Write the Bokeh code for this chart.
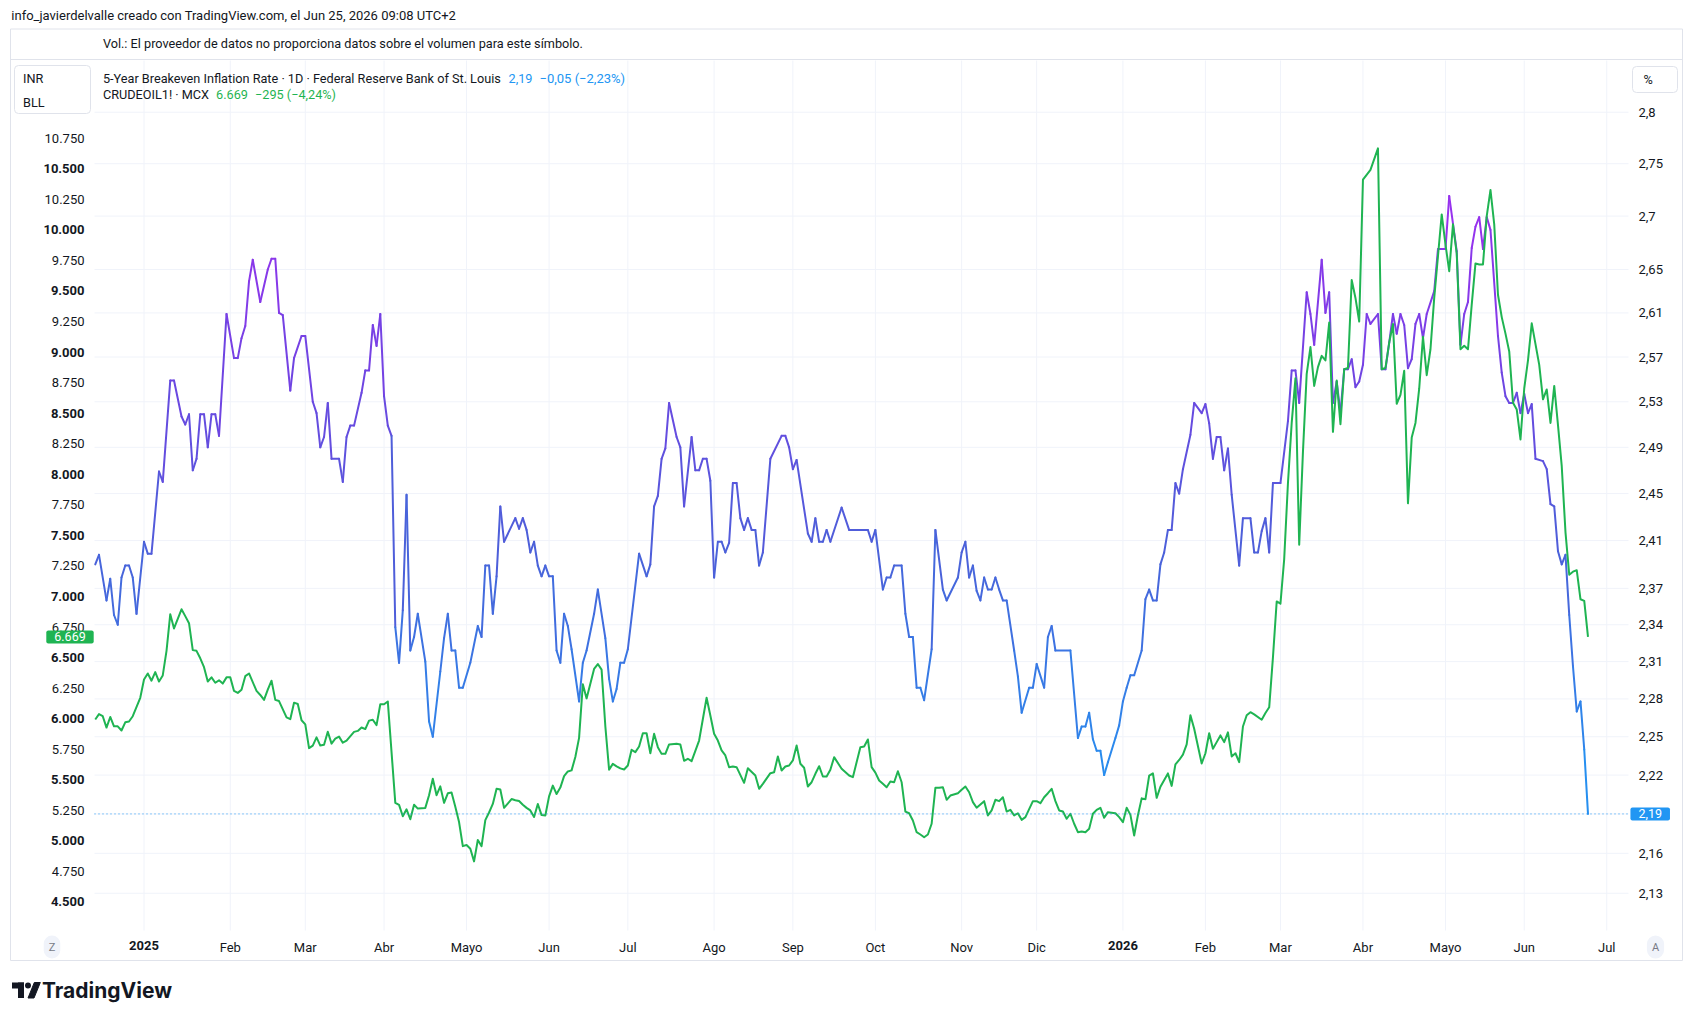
import numpy as np
from bokeh.plotting import figure
from bokeh.models import (Range1d, LinearAxis, LinearScale, FixedTicker, Label,
                          BoxAnnotation, PolyAnnotation)
from bokeh.embed import file_html
from bokeh.resources import INLINE

# ---------------- data ----------------
# 5-Year Breakeven Inflation Rate (right, log axis, %)
bei_dates = [
 "2024-12-13","2024-12-16","2024-12-18","2024-12-19","2024-12-20","2024-12-23","2024-12-24","2024-12-25","2024-12-26","2024-12-27","2024-12-30",
 "2025-01-01","2025-01-02","2025-01-03","2025-01-07","2025-01-08","2025-01-10","2025-01-13","2025-01-15","2025-01-16","2025-01-17","2025-01-20","2025-01-21","2025-01-22","2025-01-23","2025-01-24","2025-01-27","2025-01-28","2025-01-29","2025-01-31",
 "2025-02-04","2025-02-05","2025-02-06","2025-02-07","2025-02-10","2025-02-11","2025-02-13","2025-02-17","2025-02-18","2025-02-19","2025-02-20","2025-02-21","2025-02-25","2025-02-26","2025-02-28",
 "2025-03-03","2025-03-05","2025-03-06","2025-03-07","2025-03-10","2025-03-11","2025-03-12","2025-03-14","2025-03-17","2025-03-18","2025-03-19","2025-03-20","2025-03-24","2025-03-25","2025-03-26","2025-03-27","2025-03-28","2025-03-31",
 "2025-04-01","2025-04-02","2025-04-03","2025-04-04","2025-04-07","2025-04-08","2025-04-09","2025-04-10","2025-04-11","2025-04-14","2025-04-16","2025-04-17","2025-04-18","2025-04-22","2025-04-23","2025-04-24","2025-04-25","2025-04-28","2025-04-29","2025-04-30",
 "2025-05-02","2025-05-06","2025-05-07","2025-05-08","2025-05-09","2025-05-12","2025-05-13","2025-05-14","2025-05-15","2025-05-20","2025-05-21","2025-05-22","2025-05-23","2025-05-26","2025-05-27","2025-05-28","2025-05-29","2025-05-30",
 "2025-06-02","2025-06-03","2025-06-04","2025-06-05","2025-06-06","2025-06-09","2025-06-10","2025-06-12","2025-06-13","2025-06-16","2025-06-18","2025-06-19","2025-06-23","2025-06-24","2025-06-25","2025-06-26","2025-06-27","2025-06-30",
 "2025-07-01","2025-07-04","2025-07-08","2025-07-09","2025-07-10","2025-07-11","2025-07-14","2025-07-15","2025-07-16","2025-07-18","2025-07-21","2025-07-22","2025-07-24","2025-07-25","2025-07-28","2025-07-29","2025-07-30","2025-07-31",
 "2025-08-01","2025-08-04","2025-08-05","2025-08-06","2025-08-07","2025-08-08","2025-08-11","2025-08-12","2025-08-13","2025-08-14","2025-08-15","2025-08-18","2025-08-19","2025-08-20","2025-08-22","2025-08-27","2025-08-28","2025-08-29",
 "2025-09-01","2025-09-02","2025-09-05","2025-09-08","2025-09-09","2025-09-10","2025-09-11","2025-09-12","2025-09-15","2025-09-18","2025-09-22","2025-09-29","2025-09-30",
 "2025-10-01","2025-10-03","2025-10-06","2025-10-07","2025-10-08","2025-10-10","2025-10-13","2025-10-14","2025-10-15","2025-10-16","2025-10-17","2025-10-20","2025-10-22","2025-10-23","2025-10-27","2025-10-28","2025-10-31",
 "2025-11-03","2025-11-04","2025-11-05","2025-11-06","2025-11-07","2025-11-10","2025-11-11","2025-11-12","2025-11-13","2025-11-14","2025-11-17","2025-11-18","2025-11-19","2025-11-21","2025-11-24","2025-11-25","2025-11-27","2025-11-28",
 "2025-12-01","2025-12-03","2025-12-04","2025-12-05","2025-12-08","2025-12-12","2025-12-16","2025-12-17","2025-12-18","2025-12-19","2025-12-22","2025-12-23","2025-12-24","2025-12-25","2025-12-26","2025-12-30","2025-12-31",
 "2026-01-01","2026-01-02","2026-01-05","2026-01-06","2026-01-08","2026-01-09","2026-01-12","2026-01-13","2026-01-14","2026-01-15","2026-01-16","2026-01-19","2026-01-20","2026-01-21","2026-01-22","2026-01-23","2026-01-27","2026-01-28","2026-01-30",
 "2026-02-02","2026-02-03","2026-02-04","2026-02-05","2026-02-06","2026-02-09","2026-02-10","2026-02-11","2026-02-13","2026-02-16","2026-02-18","2026-02-19","2026-02-20","2026-02-23","2026-02-24","2026-02-25","2026-02-26",
 "2026-03-02","2026-03-04","2026-03-05","2026-03-06","2026-03-09","2026-03-11","2026-03-12","2026-03-13","2026-03-17","2026-03-18","2026-03-19","2026-03-20","2026-03-23","2026-03-24","2026-03-25","2026-03-26","2026-03-27","2026-03-30","2026-03-31",
 "2026-04-01","2026-04-02","2026-04-03","2026-04-07","2026-04-08","2026-04-09","2026-04-10","2026-04-13","2026-04-14","2026-04-15","2026-04-16","2026-04-17","2026-04-20","2026-04-21","2026-04-22","2026-04-23","2026-04-24","2026-04-28","2026-04-29",
 "2026-05-01","2026-05-04","2026-05-06","2026-05-07","2026-05-08","2026-05-11","2026-05-12","2026-05-13","2026-05-14","2026-05-15","2026-05-18","2026-05-19","2026-05-21","2026-05-22","2026-05-25","2026-05-26","2026-05-27","2026-05-28","2026-05-29",
 "2026-06-01","2026-06-02","2026-06-03","2026-06-04","2026-06-08","2026-06-09","2026-06-10","2026-06-11","2026-06-12","2026-06-15","2026-06-16","2026-06-17","2026-06-18","2026-06-19","2026-06-22","2026-06-23","2026-06-24"]
bei_values = [
 2.390,2.398,2.360,2.378,2.348,2.340,2.379,2.389,2.389,2.379,2.349,
 2.409,2.399,2.399,2.469,2.460,2.549,2.549,2.517,2.510,2.519,2.470,2.480,2.519,2.519,2.490,2.519,2.519,2.500,2.609,
 2.569,2.569,2.587,2.598,2.639,2.659,2.620,2.650,2.660,2.660,2.610,2.608,2.540,2.569,2.589,
 2.589,2.530,2.520,2.490,2.499,2.529,2.480,2.480,2.460,2.499,2.509,2.509,2.538,2.558,2.558,2.599,2.580,2.609,
 2.535,2.509,2.500,2.338,2.309,2.352,2.449,2.319,2.330,2.349,2.310,2.262,2.250,2.302,2.329,2.349,2.319,2.319,2.289,2.289,
 2.309,2.339,2.330,2.389,2.389,2.349,2.380,2.439,2.409,2.429,2.420,2.429,2.419,2.400,2.409,2.389,2.380,2.389,
 2.380,2.380,2.319,2.309,2.349,2.339,2.320,2.278,2.309,2.319,2.349,2.369,2.329,2.296,2.278,2.288,2.309,2.309,
 2.320,2.399,2.380,2.390,2.439,2.448,2.480,2.489,2.529,2.499,2.490,2.439,2.499,2.470,2.470,2.480,2.480,2.461,
 2.379,2.409,2.409,2.400,2.408,2.459,2.459,2.429,2.419,2.429,2.419,2.419,2.389,2.400,2.480,2.500,2.500,2.490,
 2.471,2.479,2.416,2.409,2.429,2.409,2.409,2.419,2.409,2.438,2.419,2.419,2.409,
 2.419,2.369,2.379,2.379,2.389,2.389,2.349,2.330,2.330,2.289,2.289,2.279,2.320,2.419,2.369,2.360,2.379,
 2.400,2.409,2.379,2.389,2.368,2.360,2.379,2.369,2.369,2.379,2.369,2.360,2.360,2.319,2.298,2.269,2.289,2.289,
 2.308,2.289,2.330,2.339,2.319,2.319,2.249,2.258,2.258,2.269,2.248,2.239,2.239,2.220,2.230,2.249,2.259,
 2.278,2.289,2.299,2.299,2.319,2.361,2.369,2.360,2.360,2.390,2.400,2.419,2.419,2.459,2.450,2.471,2.501,2.529,2.520,
 2.528,2.511,2.480,2.499,2.499,2.470,2.489,2.449,2.389,2.429,2.429,2.400,2.400,2.418,2.429,2.400,2.459,
 2.459,2.513,2.558,2.558,2.529,2.629,2.609,2.581,2.659,2.610,2.629,2.529,2.548,2.520,2.559,2.559,2.568,2.543,2.548,
 2.563,2.609,2.600,2.609,2.559,2.559,2.583,2.609,2.591,2.609,2.599,2.560,2.568,2.600,2.609,2.587,2.609,2.630,2.669,
 2.669,2.719,2.667,2.581,2.609,2.620,2.670,2.690,2.699,2.669,2.699,2.687,2.589,2.556,2.535,2.529,2.529,2.538,2.520,
 2.537,2.520,2.528,2.480,2.478,2.471,2.441,2.439,2.401,2.390,2.398,2.348,2.306,2.270,2.278,2.240,2.190]

# CRUDEOIL1! MCX (left, linear axis, INR)
crude_dates = [
 "2024-12-13","2024-12-16","2024-12-17","2024-12-18","2024-12-19","2024-12-20","2024-12-23","2024-12-24","2024-12-25","2024-12-26","2024-12-27","2024-12-31",
 "2025-01-01","2025-01-02","2025-01-03","2025-01-06","2025-01-07","2025-01-08","2025-01-09","2025-01-10","2025-01-13","2025-01-15","2025-01-16","2025-01-17","2025-01-20","2025-01-21","2025-01-22","2025-01-23","2025-01-24","2025-01-27","2025-01-28","2025-01-29","2025-01-30","2025-01-31",
 "2025-02-03","2025-02-04","2025-02-05","2025-02-06","2025-02-07","2025-02-10","2025-02-12","2025-02-13","2025-02-14","2025-02-17","2025-02-18","2025-02-19","2025-02-20","2025-02-24","2025-02-25","2025-02-26","2025-02-27","2025-02-28",
 "2025-03-03","2025-03-04","2025-03-05","2025-03-06","2025-03-07","2025-03-10","2025-03-11","2025-03-12","2025-03-13","2025-03-14","2025-03-17","2025-03-18","2025-03-20","2025-03-21","2025-03-24","2025-03-25","2025-03-26","2025-03-27","2025-03-28","2025-03-31",
 "2025-04-01","2025-04-02","2025-04-04","2025-04-07","2025-04-08","2025-04-09","2025-04-10","2025-04-11","2025-04-14","2025-04-16","2025-04-17","2025-04-18","2025-04-21","2025-04-22","2025-04-23","2025-04-24","2025-04-25","2025-04-28","2025-04-29","2025-04-30",
 "2025-05-01","2025-05-02","2025-05-05","2025-05-06","2025-05-07","2025-05-08","2025-05-09","2025-05-12","2025-05-13","2025-05-14","2025-05-15","2025-05-19","2025-05-20","2025-05-21","2025-05-22","2025-05-23","2025-05-26","2025-05-27","2025-05-28","2025-05-29","2025-05-30",
 "2025-06-02","2025-06-03","2025-06-04","2025-06-05","2025-06-06","2025-06-09","2025-06-10","2025-06-11","2025-06-12","2025-06-13","2025-06-16","2025-06-18","2025-06-19","2025-06-20","2025-06-23","2025-06-24","2025-06-25","2025-06-26","2025-06-27","2025-06-30",
 "2025-07-01","2025-07-02","2025-07-03","2025-07-04","2025-07-07","2025-07-08","2025-07-09","2025-07-10","2025-07-11","2025-07-14","2025-07-15","2025-07-16","2025-07-18","2025-07-21","2025-07-22","2025-07-23","2025-07-24","2025-07-28","2025-07-30","2025-07-31",
 "2025-08-01","2025-08-04","2025-08-05","2025-08-06","2025-08-07","2025-08-08","2025-08-11","2025-08-13","2025-08-14","2025-08-18","2025-08-19","2025-08-20","2025-08-22","2025-08-25","2025-08-26","2025-08-27","2025-08-28","2025-08-29",
 "2025-09-01","2025-09-02","2025-09-03","2025-09-04","2025-09-05","2025-09-08","2025-09-09","2025-09-10","2025-09-11","2025-09-12","2025-09-15","2025-09-16","2025-09-18","2025-09-22","2025-09-23","2025-09-25","2025-09-26","2025-09-29","2025-09-30",
 "2025-10-01","2025-10-02","2025-10-03","2025-10-06","2025-10-07","2025-10-08","2025-10-09","2025-10-10","2025-10-13","2025-10-14","2025-10-15","2025-10-16","2025-10-17","2025-10-20","2025-10-21","2025-10-22","2025-10-23","2025-10-24","2025-10-27","2025-10-28","2025-10-29","2025-10-31",
 "2025-11-03","2025-11-04","2025-11-05","2025-11-06","2025-11-07","2025-11-10","2025-11-11","2025-11-12","2025-11-13","2025-11-14","2025-11-17","2025-11-18","2025-11-19","2025-11-20","2025-11-21","2025-11-24","2025-11-25","2025-11-26","2025-11-28",
 "2025-12-01","2025-12-02","2025-12-03","2025-12-04","2025-12-05","2025-12-08","2025-12-09","2025-12-10","2025-12-11","2025-12-12","2025-12-15","2025-12-16","2025-12-17","2025-12-18","2025-12-19","2025-12-22","2025-12-23","2025-12-24","2025-12-25","2025-12-26","2025-12-30","2025-12-31",
 "2026-01-01","2026-01-02","2026-01-05","2026-01-06","2026-01-07","2026-01-08","2026-01-09","2026-01-12","2026-01-13","2026-01-14","2026-01-15","2026-01-19","2026-01-20","2026-01-21","2026-01-22","2026-01-23","2026-01-26","2026-01-27","2026-01-28","2026-01-30",
 "2026-02-02","2026-02-03","2026-02-04","2026-02-05","2026-02-06","2026-02-09","2026-02-10","2026-02-11","2026-02-12","2026-02-13","2026-02-16","2026-02-17","2026-02-18","2026-02-19","2026-02-23","2026-02-24","2026-02-25","2026-02-26","2026-02-27",
 "2026-03-02","2026-03-03","2026-03-04","2026-03-05","2026-03-06","2026-03-09","2026-03-10","2026-03-11","2026-03-12","2026-03-13","2026-03-16","2026-03-17","2026-03-18","2026-03-19","2026-03-20","2026-03-23","2026-03-24","2026-03-25","2026-03-26","2026-03-27","2026-03-30","2026-03-31",
 "2026-04-01","2026-04-03","2026-04-07","2026-04-08","2026-04-09","2026-04-10","2026-04-13","2026-04-14","2026-04-15","2026-04-16","2026-04-17","2026-04-20","2026-04-21","2026-04-22","2026-04-23","2026-04-24","2026-04-27","2026-04-28","2026-04-30",
 "2026-05-01","2026-05-04","2026-05-05","2026-05-06","2026-05-07","2026-05-08","2026-05-11","2026-05-12","2026-05-13","2026-05-14","2026-05-15","2026-05-18","2026-05-19","2026-05-20","2026-05-21","2026-05-22","2026-05-25","2026-05-26","2026-05-27","2026-05-28","2026-05-29",
 "2026-06-01","2026-06-02","2026-06-03","2026-06-05","2026-06-08","2026-06-09","2026-06-10","2026-06-11","2026-06-12","2026-06-15","2026-06-16","2026-06-17","2026-06-18","2026-06-19","2026-06-22","2026-06-23","2026-06-24"]
crude_values = [
 5993,6037,6020,5927,6014,5937,5937,5903,5970,5977,6020,6171,
 6321,6370,6311,6381,6304,6354,6555,6855,6738,6895,6839,6781,6561,6555,6494,6421,6304,6338,6294,6314,6287,6338,
 6338,6227,6211,6237,6348,6370,6227,6194,6154,6237,6311,6154,6144,6010,5996,6131,6120,5987,
 5953,5759,5780,5847,5780,5786,5893,5796,5836,5853,5803,5820,5892,5900,5928,5915,5984,5991,5947,6118,
 6118,6141,5311,5295,5201,5258,5177,5295,5264,5270,5374,5508,5374,5446,5311,5389,5396,5280,5154,4957,
 4966,4935,4832,5007,4957,5170,5232,5302,5427,5420,5270,5342,5333,5326,5295,5270,5249,5195,5302,5211,5208,
 5364,5452,5383,5436,5530,5568,5577,5686,5843,6282,6166,6407,6447,6401,5938,5583,5630,5610,5593,5584,
 5617,5745,5726,5772,5881,5881,5717,5876,5767,5712,5712,5789,5794,5789,5655,5672,5652,5821,6171,6026,
 5876,5821,5740,5699,5603,5609,5603,5475,5595,5535,5426,5467,5554,5562,5690,5576,5609,5617,
 5658,5780,5631,5598,5445,5480,5549,5611,5527,5527,5582,5685,5590,5535,5521,5767,5772,5830,5603,
 5558,5494,5467,5439,5486,5480,5570,5480,5240,5226,5167,5071,5052,5030,5052,5140,5434,5434,5439,5336,5371,5390,
 5418,5445,5398,5317,5271,5298,5325,5208,5249,5336,5325,5357,5240,5254,5208,5226,5172,5194,5325,
 5325,5308,5357,5390,5426,5325,5249,5240,5181,5222,5140,5071,5077,5071,5099,5222,5254,5271,5189,5235,5226,5194,
 5153,5271,5213,5044,5210,5348,5340,5534,5552,5352,5443,5552,5450,5626,5662,5706,5790,6028,5918,5633,
 5717,5881,5753,5808,5863,5808,5888,5691,5717,5644,5936,6028,6053,6035,5991,6046,6093,6502,6959,
 6941,7306,7927,8420,8785,7423,8183,8822,9041,8723,8877,8969,8932,9242,8347,8767,8409,8859,8870,9589,9443,9250,
 10411,10491,10667,8859,8870,9078,9230,8577,8650,8847,7762,8300,8420,8702,9125,8811,9023,9443,10126,
 9882,9662,10045,9808,9023,9052,9023,9388,9725,9717,9717,10112,10327,10045,9469,9286,9151,9005,8585,8530,8285,
 8702,8932,9235,8895,8613,8694,8420,8723,8402,8066,7525,7178,7203,7215,6977,6964,6669]

month_starts = ["2025-01","2025-02","2025-03","2025-04","2025-05","2025-06","2025-07","2025-08","2025-09",
                "2025-10","2025-11","2025-12","2026-01","2026-02","2026-03","2026-04","2026-05","2026-06","2026-07"]
month_labels = ["2025","Feb","Mar","Abr","Mayo","Jun","Jul","Ago","Sep","Oct","Nov","Dic",
                "2026","Feb","Mar","Abr","Mayo","Jun","Jul"]
bei_ticks = [2.13,2.16,2.19,2.22,2.25,2.28,2.31,2.34,2.37,2.41,2.45,2.49,2.53,2.57,2.61,2.65,2.7,2.75,2.8]
crude_ticks = list(range(4500, 10751, 250))

# ---------------- style / layout ----------------
DARK = "#131722"
GRID = "#f0f3fa"
BORDER = "#e0e3eb"
GREEN = "#1fb452"
BLUE = "#2196f3"
FONT = "Roboto"
TXT = "12.7px"

W, H = 1686, 1010
FRAME_L, FRAME_R, FRAME_T, FRAME_B = 94, 1628, 60, 930     # page pixels of the chart pane
X_RANGE = (-13.2, 395.8)                                     # visible business-day window of the pane
BEI_RANGE = (2.1024, 2.8512)
CRUDE_RANGE = (4266.6, 11385.8)

BASE = np.datetime64("2025-01-01")
def bidx(ds):
    return np.busday_count(BASE, np.array(ds, dtype="datetime64[D]")).astype(float)

tick_idx = [int(np.busday_count(BASE, np.busday_offset(np.datetime64(m + "-01"), 0, roll="forward")))
            for m in month_starts]

def fmt_thousands(v):
    return f"{int(v):,}".replace(",", ".")

def fmt_dec(v, nd=2):
    return f"{v:.{nd}f}".replace(".", ",")

# the whole canvas is the plot frame; ranges are widened so that the pane keeps its window
ppx = (X_RANGE[1] - X_RANGE[0]) / (FRAME_R - FRAME_L)
full_x = (X_RANGE[0] - FRAME_L * ppx, X_RANGE[1] + (W - FRAME_R) * ppx)
lpp = (np.log(BEI_RANGE[1]) - np.log(BEI_RANGE[0])) / (FRAME_B - FRAME_T)
full_bei = (float(np.exp(np.log(BEI_RANGE[0]) - (H - FRAME_B) * lpp)),
            float(np.exp(np.log(BEI_RANGE[1]) + FRAME_T * lpp)))
cpp = (CRUDE_RANGE[1] - CRUDE_RANGE[0]) / (FRAME_B - FRAME_T)
full_crude = (CRUDE_RANGE[0] - (H - FRAME_B) * cpp, CRUDE_RANGE[1] + FRAME_T * cpp)

p = figure(width=W, height=H, output_backend="svg", toolbar_location=None, title=None,
           x_range=Range1d(*full_x), y_range=Range1d(*full_bei),
           y_axis_type="log", y_axis_location="right", min_border=0)
p.outline_line_color = None
p.background_fill_color = "white"
p.border_fill_color = "white"
p.extra_y_ranges = {"crude": Range1d(*full_crude)}
p.extra_y_scales = {"crude": LinearScale()}
p.xgrid.visible = False
p.ygrid.visible = False

def style_axis(ax, standoff=10, bold=False):
    ax.axis_line_color = None
    ax.major_tick_line_color = None
    ax.minor_tick_line_color = None
    ax.major_tick_out = 0
    ax.major_tick_in = 0
    ax.minor_tick_out = 0
    ax.minor_tick_in = 0
    ax.major_label_text_font = FONT
    ax.major_label_text_font_size = "13px"
    ax.major_label_text_color = DARK
    ax.major_label_text_font_style = "bold" if bold else "normal"
    ax.major_label_standoff = standoff

# time axis: months (regular) and years (bold), fixed at the pane's bottom edge
xa = p.xaxis[0]
xa.ticker = FixedTicker(ticks=[t for t, lab in zip(tick_idx, month_labels) if not lab.isdigit()])
xa.major_label_overrides = {t: lab for t, lab in zip(tick_idx, month_labels) if not lab.isdigit()}
xa.fixed_location = BEI_RANGE[0]
style_axis(xa, 9)
xa_years = LinearAxis(ticker=FixedTicker(ticks=[t for t, lab in zip(tick_idx, month_labels) if lab.isdigit()]),
                      major_label_overrides={t: lab for t, lab in zip(tick_idx, month_labels) if lab.isdigit()},
                      fixed_location=BEI_RANGE[0])
style_axis(xa_years, 10, bold=True)
p.add_layout(xa_years, "below")

# right price scale (breakeven, log) fixed at the pane's right edge
ya = p.yaxis[0]
ya.ticker = FixedTicker(ticks=[t for t in bei_ticks if t != bei_values[-1]])
ya.major_label_overrides = {t: f"{t:g}".replace(".", ",") for t in bei_ticks}
ya.fixed_location = X_RANGE[1]
style_axis(ya)

# left price scale (crude): x.250/x.750 regular, whole 500s bold
la = LinearAxis(y_range_name="crude", ticker=FixedTicker(ticks=[t for t in crude_ticks if t % 500]),
                major_label_overrides={t: fmt_thousands(t) for t in crude_ticks},
                fixed_location=X_RANGE[0])
style_axis(la)
p.add_layout(la, "left")
la_bold = LinearAxis(y_range_name="crude", ticker=FixedTicker(ticks=[t for t in crude_ticks if t % 500 == 0]),
                     major_label_overrides={t: fmt_thousands(t) for t in crude_ticks},
                     fixed_location=X_RANGE[0])
style_axis(la_bold, bold=True)
p.add_layout(la_bold, "left")

# pane grid lines (from the tick arrays, limited to the pane window)
p.segment(x0=tick_idx, y0=[BEI_RANGE[0]] * len(tick_idx), x1=tick_idx, y1=[BEI_RANGE[1]] * len(tick_idx),
          line_color=GRID, line_width=1)
p.segment(x0=[X_RANGE[0]] * len(bei_ticks), y0=bei_ticks, x1=[X_RANGE[1]] * len(bei_ticks), y1=bei_ticks,
          line_color=GRID, line_width=1)

# ---------------- series ----------------
bx = bidx(bei_dates)
by = np.array(bei_values)
stop_v = np.log([2.19, 2.40, 2.55, 2.72])
stop_rgb = np.array([[0x21, 0x96, 0xf3], [0x4b, 0x61, 0xd9], [0x6e, 0x45, 0xe2], [0x9e, 0x2e, 0xf0]], float)
def grad(v):
    t = np.log(v)
    r, g, b = (int(round(np.interp(t, stop_v, stop_rgb[:, k]))) for k in range(3))
    return f"#{r:02x}{g:02x}{b:02x}"
seg_colors = [grad(np.sqrt(a * b)) for a, b in zip(by[:-1], by[1:])]
p.segment(bx[:-1], by[:-1], bx[1:], by[1:], line_color=seg_colors, line_width=2, line_cap="round")

p.line(bidx(crude_dates), crude_values, y_range_name="crude", line_color=GREEN, line_width=2,
       line_join="round")

# last-value price line (dotted, across the pane)
p.line(x=list(X_RANGE), y=[bei_values[-1]] * 2, line_color=BLUE, line_dash="1 3", line_width=1)

# ---------------- texts and frames around the pane (page pixels) ----------------
def label(px, py, text, size=TXT, color=DARK, bold=False, align="left", font=FONT, **kw):
    p.add_layout(Label(x=px, y=H - py, x_units="screen", y_units="screen", text=text,
                       text_font=font, text_font_size=size, text_color=color,
                       text_font_style="bold" if bold else "normal",
                       text_align=align, text_baseline="middle", **kw))

def box(x0, y0, x1, y1, fill="white", line=BORDER, radius=0):
    p.add_layout(BoxAnnotation(left=x0, right=x1, top=H - y0, bottom=H - y1,
                               left_units="screen", right_units="screen",
                               top_units="screen", bottom_units="screen",
                               fill_color=fill if fill else "white", fill_alpha=1.0 if fill else 0.0,
                               line_color=line if line else "white", line_alpha=1.0 if line else 0.0,
                               line_width=1, border_radius=radius))

box(10, 28.5, 1682, 960, fill=None, line=BORDER)
box(10, 58.5, 1682, 59.5, fill=BORDER, line=None)

label(10.8, 15, "info_javierdelvalle creado con TradingView.com, el Jun 25, 2026 09:08 UTC+2", size="13px")
label(102.4, 43, "Vol.: El proveedor de datos no proporciona datos sobre el volumen para este símbolo.")

bei_chg = bei_values[-1] - bei_values[-2]
crude_chg = crude_values[-1] - crude_values[-2]
label(102.4, 77.5, "5-Year Breakeven Inflation Rate · 1D · Federal Reserve Bank of St. Louis")
label(508, 77.5, fmt_dec(bei_values[-1]), color=BLUE)
label(539, 77.5, f"−{fmt_dec(abs(bei_chg))} (−{fmt_dec(abs(bei_chg) / bei_values[-2] * 100)}%)",
      color=BLUE, size="13px")
label(102.4, 94, "CRUDEOIL1! · MCX")
label(215.6, 94, fmt_thousands(crude_values[-1]), color=GREEN)
label(254.5, 94, f"−{abs(crude_chg)} (−{fmt_dec(abs(crude_chg) / crude_values[-2] * 100)}%)", color=GREEN)

box(14, 65, 90, 113, radius=4)
label(22.6, 78, "INR")
label(22.6, 102, "BLL")
box(1632, 66, 1677, 92, radius=4)
label(1643, 78.5, "%")

# last value tags on the price scales
p.add_layout(Label(x=69.5, y=crude_values[-1], x_units="screen", y_range_name="crude",
                   text=fmt_thousands(crude_values[-1]), text_align="center", text_baseline="middle",
                   text_font=FONT, text_font_size="12.5px", text_color="white",
                   background_fill_color=GREEN, background_fill_alpha=1.0, padding=(8, 2), border_radius=2))
p.add_layout(Label(x=1649.7, y=bei_values[-1], x_units="screen",
                   text=fmt_dec(bei_values[-1]), text_align="center", text_baseline="middle",
                   text_font=FONT, text_font_size="12.5px", text_color="white",
                   background_fill_color=BLUE, background_fill_alpha=1.0, padding=(8, 2), border_radius=2))

# scale buttons
label(51.5, 946.5, "Z", size="11px", color="#787b86", align="center",
      background_fill_color="#f0f3fa", background_fill_alpha=1.0, padding=5, border_radius=9)
label(1655, 946.5, "A", size="11px", color="#787b86", align="center",
      background_fill_color="#f0f3fa", background_fill_alpha=1.0, padding=5, border_radius=9)

# TradingView logo
box(11.5, 982, 23.5, 988, fill=DARK, line=None)
box(17.5, 982, 23.5, 997.5, fill=DARK, line=None)
box(24.5, 982, 30.5, 988, fill=DARK, line=None, radius=3)
p.add_layout(PolyAnnotation(xs=[27.5, 33.5, 39.8, 33.8], ys=[H - 997.5, H - 997.5, H - 982, H - 982],
                            xs_units="screen", ys_units="screen",
                            fill_color=DARK, fill_alpha=1.0, line_color=DARK, line_alpha=1.0))
label(41.5, 990, "TradingView", size="21px", bold=True, font="Inter")

open("out.html", "w").write(file_html(p, INLINE))
